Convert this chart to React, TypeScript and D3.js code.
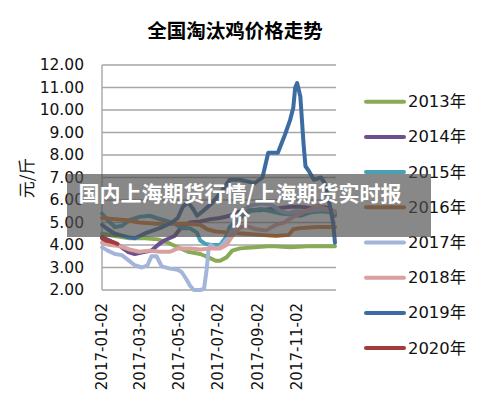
import React from "react";
import * as d3 from "d3";

const W = 500;
const H = 412;

const titleText = "全国淘汰鸡价格走势";
const yAxisTitle = "元/斤";
const yTicks = [2, 3, 4, 5, 6, 7, 8, 9, 10, 11, 12];
const xTickDates = ["2017-01-02", "2017-03-02", "2017-05-02", "2017-07-02", "2017-09-02", "2017-11-02"];
const legendYears = ["2013年", "2014年", "2015年", "2016年", "2017年", "2018年", "2019年", "2020年"];
const seriesColors = ["#8aab55", "#6b4f8f", "#4aa0b4", "#d97b2e", "#a3b5d8", "#d9a0a0", "#3d6ca3", "#a33b3b"];
const bannerLines = ["国内上海期货行情/上海期货实时报", "价"];

type Pt = [string, number];

const s2013: Pt[] = [
  ["01-02", 4.5], ["01-22", 4.4], ["02-14", 4.3], ["03-10", 4.3], ["03-30", 4.25], ["04-15", 4.1],
  ["04-30", 3.9], ["05-16", 3.7], ["06-04", 3.6], ["06-17", 3.45], ["06-28", 3.3], ["07-05", 3.3],
  ["07-15", 3.45], ["07-24", 3.75], ["08-05", 3.85], ["08-28", 3.9], ["09-22", 3.95], ["10-23", 3.9],
  ["11-23", 3.95], ["12-31", 3.95],
];
const s2014: Pt[] = [
  ["01-02", 4.35], ["01-14", 4.2], ["01-30", 3.95], ["02-11", 3.7], ["02-22", 3.6], ["03-10", 3.7],
  ["03-20", 3.75], ["03-30", 4.0], ["04-09", 4.2], ["04-25", 4.4], ["05-06", 4.8], ["05-19", 5.0],
  ["06-04", 5.05], ["06-20", 5.15], ["07-05", 5.2], ["07-20", 5.3], ["08-05", 5.5], ["08-21", 5.55],
  ["09-06", 5.55], ["09-22", 5.6], ["10-08", 5.65], ["10-23", 5.7], ["11-07", 5.7], ["11-23", 5.65],
  ["12-09", 5.7], ["12-22", 5.65], ["12-31", 5.4],
];
const s2015: Pt[] = [
  ["01-02", 5.4], ["01-11", 5.1], ["01-22", 4.8], ["02-02", 4.85], ["02-14", 5.1], ["03-01", 5.25],
  ["03-17", 5.3], ["03-28", 5.2], ["04-09", 5.1], ["04-21", 5.0], ["05-08", 4.75], ["05-19", 4.75],
  ["05-30", 4.55], ["06-04", 4.2], ["06-12", 4.05], ["06-22", 4.0], ["07-05", 4.0], ["07-13", 4.3],
  ["07-20", 4.8], ["07-30", 5.0], ["08-10", 5.35], ["08-21", 5.5], ["09-06", 5.6], ["09-22", 5.5],
  ["10-08", 5.4], ["10-23", 5.35], ["11-07", 5.3], ["11-23", 5.45], ["12-09", 5.5], ["12-25", 5.45],
  ["12-31", 5.3],
];
const s2016: Pt[] = [
  ["01-02", 5.2], ["01-22", 5.15], ["02-11", 5.1], ["03-01", 5.0], ["03-25", 4.95], ["04-18", 4.95],
  ["05-12", 4.95], ["06-04", 4.9], ["06-15", 4.7], ["06-28", 4.6], ["07-20", 4.55], ["08-14", 4.5],
  ["09-06", 4.45], ["09-30", 4.4], ["10-20", 4.45], ["10-27", 4.7], ["11-07", 4.75], ["12-01", 4.8],
  ["12-31", 4.8],
];
const s2017: Pt[] = [
  ["01-02", 3.9], ["01-11", 3.75], ["01-22", 3.6], ["02-02", 3.55], ["02-11", 3.35], ["02-22", 3.1],
  ["03-05", 3.0], ["03-14", 3.1], ["03-20", 3.5], ["03-28", 3.5], ["04-05", 3.05], ["04-18", 2.95],
  ["04-30", 2.9], ["05-06", 2.8], ["05-13", 2.5], ["05-19", 2.2], ["05-25", 2.0], ["06-04", 2.0],
  ["06-10", 2.05], ["06-14", 2.9], ["06-17", 3.8], ["06-20", 4.0], ["06-28", 3.85], ["07-05", 3.9],
  ["07-17", 4.3], ["07-28", 4.9], ["08-08", 5.5], ["08-21", 5.75], ["09-06", 5.85], ["09-22", 5.8],
  ["10-08", 5.5], ["10-20", 5.4], ["10-31", 5.5], ["11-15", 5.5], ["12-01", 5.55], ["12-16", 5.6],
  ["12-31", 5.5],
];
const s2018: Pt[] = [
  ["01-02", 4.1], ["01-14", 4.0], ["01-30", 3.95], ["02-14", 3.8], ["03-01", 3.7], ["03-17", 3.75],
  ["04-02", 3.7], ["04-18", 3.7], ["04-30", 3.85], ["05-19", 3.85], ["06-04", 3.8], ["06-20", 3.85],
  ["07-05", 3.85], ["07-15", 4.0], ["07-24", 4.4], ["08-03", 4.75], ["08-14", 4.85], ["08-30", 4.7],
  ["09-15", 4.65], ["09-30", 4.9], ["10-13", 5.0], ["10-24", 5.2], ["11-07", 5.4], ["11-23", 5.6],
  ["12-05", 5.75], ["12-16", 5.6], ["12-31", 5.45],
];
const s2019: Pt[] = [
  ["01-02", 4.9], ["01-11", 4.7], ["01-22", 4.5], ["02-11", 4.35], ["02-22", 4.3], ["03-13", 4.55],
  ["04-02", 4.75], ["04-21", 5.0], ["04-30", 5.2], ["05-08", 5.7], ["05-16", 5.9], ["05-24", 5.6],
  ["05-30", 5.3], ["06-08", 5.5], ["06-22", 5.85], ["07-08", 6.4], ["07-20", 6.9], ["08-05", 6.9],
  ["08-28", 6.75], ["09-09", 7.0], ["09-18", 8.1], ["10-03", 8.1], ["10-14", 8.9], ["10-22", 9.55],
  ["10-27", 10.1], ["10-30", 11.0], ["11-02", 11.2], ["11-07", 10.6], ["11-12", 8.5], ["11-15", 7.5],
  ["11-20", 7.3], ["11-28", 6.9], ["12-09", 7.0], ["12-14", 6.8], ["12-22", 5.9], ["12-28", 5.0],
  ["12-31", 4.1],
];
const s2020: Pt[] = [
  ["01-02", 4.3], ["01-08", 4.2], ["01-15", 4.15], ["01-22", 4.1], ["01-26", 4.05],
];

const allSeries = [s2013, s2014, s2015, s2016, s2017, s2018, s2019, s2020];

const parseDate = d3.timeParse("%Y-%m-%d");
const toDate = (md: string) => parseDate("2017-" + md) as Date;

export default function App() {
  const x = d3
    .scaleTime()
    .domain([parseDate("2017-01-02") as Date, parseDate("2017-12-31") as Date])
    .range([102, 335]);
  const y = d3.scaleLinear().domain([2, 12]).range([290, 65]);
  const fmt = d3.format(".2f");
  const line = d3
    .line<Pt>()
    .x((d) => x(toDate(d[0])))
    .y((d) => y(d[1]))
    .curve(d3.curveLinear);

  const latin = "'DejaVu Sans', 'Noto Sans CJK SC', sans-serif";
  const cjk = "'Noto Sans CJK SC', sans-serif";

  return (
    <svg
      width={W}
      height={H}
      style={{ position: "absolute", left: 0, top: 0, background: "#fff" }}
    >
      <rect x={0} y={0} width={W} height={H} fill="#fff" />
      <text x={235} y={29} textAnchor="middle" dominantBaseline="central" fontFamily={cjk} fontWeight={700} fontSize={19.5} fill="#000">
        {titleText}
      </text>

      {/* gridlines */}
      {yTicks.map((t) => (
        <line key={t} x1={102} x2={336} y1={y(t)} y2={y(t)} stroke="#a6a6a6" strokeWidth={1.4} />
      ))}
      <line x1={102} x2={102} y1={y(12)} y2={y(2)} stroke="#a6a6a6" strokeWidth={1.4} />

      {/* y tick labels */}
      {yTicks.map((t) => (
        <text key={t} x={84} y={y(t)} textAnchor="end" dominantBaseline="central" fontFamily={latin} fontSize={15.5} fill="#111">
          {fmt(t)}
        </text>
      ))}
      <text
        transform={`translate(25,178) rotate(-90)`}
        textAnchor="middle"
        dominantBaseline="central"
        fontFamily={cjk}
        fontSize={17}
        fill="#111"
      >
        {yAxisTitle}
      </text>

      {/* x tick labels */}
      {xTickDates.map((d) => (
        <text
          key={d}
          transform={`translate(${x(parseDate(d) as Date)},303) rotate(-90)`}
          textAnchor="end"
          dominantBaseline="central"
          fontFamily={latin}
          fontSize={15}
          fill="#111"
        >
          {d}
        </text>
      ))}

      {/* series */}
      {allSeries.map((s, i) => (
        <path
          key={i}
          d={line(s) || ""}
          fill="none"
          stroke={seriesColors[i]}
          strokeWidth={4}
          strokeLinejoin="round"
          strokeLinecap="round"
        />
      ))}

      {/* legend */}
      {legendYears.map((name, i) => {
        const ly = 101.7 + i * 35.2;
        return (
          <g key={name}>
            <line x1={366} x2={404} y1={ly} y2={ly} stroke={seriesColors[i]} strokeWidth={4} strokeLinecap="round" />
            <text x={408} y={ly} dominantBaseline="central" fontFamily={latin} fontSize={16.4} fill="#111">
              {name}
            </text>
          </g>
        );
      })}

      {/* overlay banner */}
      <rect x={67} y={174} width={364} height={63} fill="#505050" opacity={0.68} />
      {bannerLines.map((t, i) => (
        <text
          key={i}
          x={240}
          y={192 + i * 24}
          textAnchor="middle"
          dominantBaseline="central"
          fontFamily={cjk}
          fontWeight={700}
          fontSize={21}
          fill="#fff"
        >
          {t}
        </text>
      ))}
    </svg>
  );
}
